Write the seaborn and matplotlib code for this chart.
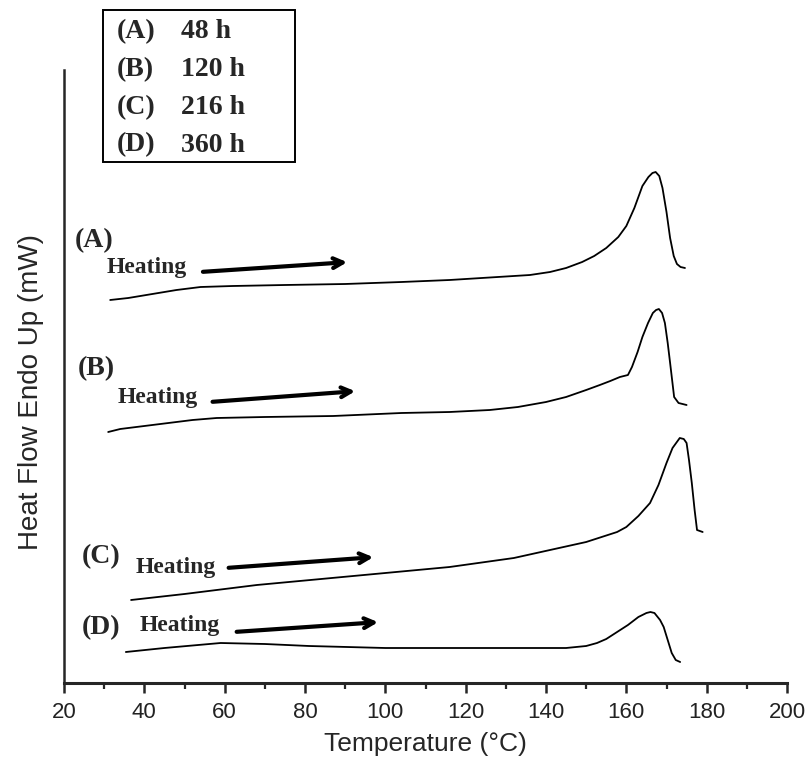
import numpy as np
import pandas as pd
import matplotlib
matplotlib.use("Agg")
import matplotlib.pyplot as plt
import seaborn as sns
from matplotlib.patches import Rectangle
from matplotlib.ticker import MultipleLocator

# ── data (heat flow in arbitrary offset units) ──
temp_a = [31.5, 36, 42, 48, 54, 62, 75, 90, 104, 116, 128, 136, 141, 145, 149, 152,
          155, 158, 160, 162, 164, 165.5, 166.5, 167.3, 168.2, 169, 170, 170.9,
          171.8, 172.6, 173.5, 174.6]
flow_a = [383, 385, 389, 393, 396, 397, 398, 399, 401, 403, 406, 408, 411, 415, 421,
          427, 435, 446, 457, 475, 497, 506, 510, 511, 507, 495, 471, 445, 427, 419,
          416, 415]

temp_b = [31, 34, 40, 46, 52, 58, 70, 87, 104, 116, 126, 133, 140, 145, 150, 153.4,
          156, 158.4, 160.4, 161.4, 162.8, 164, 165.4, 166.6, 167.4, 168.1, 168.9,
          169.6, 170.3, 170.9, 171.9, 173, 175]
flow_b = [251, 254, 257, 260, 263, 265, 266, 267, 270, 271, 273, 276, 281, 286, 293,
          298, 302, 306, 308, 316, 331, 346, 360, 370, 373, 374, 370, 360, 340, 320,
          286, 280, 278]

temp_c = [36.7, 50, 68, 84, 100, 116, 132, 141, 150, 157.7, 160, 163, 165.9, 168,
          170, 171.5, 173.3, 174.3, 175, 175.6, 176.3, 177, 177.6, 179]
flow_c = [83, 89, 98, 104, 110, 116, 125, 133, 141, 151, 156, 167, 180, 198, 220,
          235, 245, 244, 240, 223, 200, 173, 153, 151]

temp_d = [35.4, 45, 59, 70, 81, 100, 120, 145, 150, 152.7, 155, 157.7, 160.4, 163,
          165, 166, 167, 168.4, 169.3, 170.3, 171.3, 172.3, 173.4]
flow_d = [31, 35, 40, 39, 37, 35, 35, 35, 37, 40, 44, 51, 58, 66, 70, 71, 70, 63,
          56, 43, 30, 23, 21]

samples = ["(A)", "(B)", "(C)", "(D)"]
times = ["48 h", "120 h", "216 h", "360 h"]

# label positions: (label x, label y, heating x, heating y, arrow start, arrow end)
label_pos = [(22.7, 442, 30.7, 415, (53.9, 411), (91.2, 421)),
             (23.5, 314, 33.4, 286, (56.3, 281), (93.2, 292)),
             (24.5, 126, 37.9, 115, (60.3, 115), (97.7, 126)),
             (24.5, 55, 38.7, 57, (62.3, 51), (98.9, 61))]

df = pd.concat([
    pd.DataFrame({"T": t, "flow": f, "sample": s})
    for t, f, s in zip([temp_a, temp_b, temp_c, temp_d],
                       [flow_a, flow_b, flow_c, flow_d], samples)
])

sns.set_style("ticks")
plt.rcParams["font.family"] = ["Liberation Sans", "DejaVu Sans"]

fig = plt.figure(figsize=(8.07, 7.6), dpi=100)
ax = fig.add_axes([64 / 807, 77 / 760, 723 / 807, 613 / 760])

sns.lineplot(data=df, x="T", y="flow", units="sample", estimator=None,
             color="black", lw=1.3, sort=False, ax=ax)

ax.set_xlim(20, 200)
ax.set_ylim(0, 613)
ax.xaxis.set_major_locator(MultipleLocator(20))
ax.xaxis.set_minor_locator(MultipleLocator(10))
ax.tick_params(axis="x", which="major", direction="out", length=7.5, width=1.8,
               labelsize=16, pad=6, labelcolor="#222222")
ax.tick_params(axis="x", which="minor", direction="out", length=4.5, width=1.6)
ax.set_yticks([])
for side in ["top", "right"]:
    ax.spines[side].set_visible(False)
ax.spines["bottom"].set_linewidth(2.2)
ax.spines["left"].set_linewidth(1.8)

ax.set_xlabel("Temperature (\u00b0C)", fontsize=19, labelpad=7)
ax.set_ylabel("Heat Flow Endo Up (mW)", fontsize=20)
ax.yaxis.set_label_coords(-0.028, 0.475)

serif_bold = dict(family=["Liberation Serif", "DejaVu Serif"], weight="bold")
for s, (lx, ly, hx, hy, a0, a1) in zip(samples, label_pos):
    ax.text(lx, ly, s, fontsize=20, va="center", ha="left", **serif_bold)
    ax.text(hx, hy, "Heating", fontsize=17, va="center", ha="left", **serif_bold)
    ax.annotate("", xy=a1, xytext=a0,
                arrowprops=dict(arrowstyle="->,head_length=0.7,head_width=0.35",
                                color="black", lw=3))

# sample/time key box
fig.patches.append(Rectangle((103 / 807, 1 - 162 / 760), 192 / 807, 152 / 760,
                             transform=fig.transFigure, fill=False,
                             edgecolor="black", lw=1.4))
for i, (s, t) in enumerate(zip(samples, times)):
    yy = 1 - (32 + 37.7 * i) / 760
    fig.text(117 / 807, yy, s, fontsize=20, va="center", ha="left", **serif_bold)
    fig.text(181 / 807, yy, t, fontsize=20, va="center", ha="left", **serif_bold)

fig.savefig("out.png", dpi=100)
plt.close(fig)
